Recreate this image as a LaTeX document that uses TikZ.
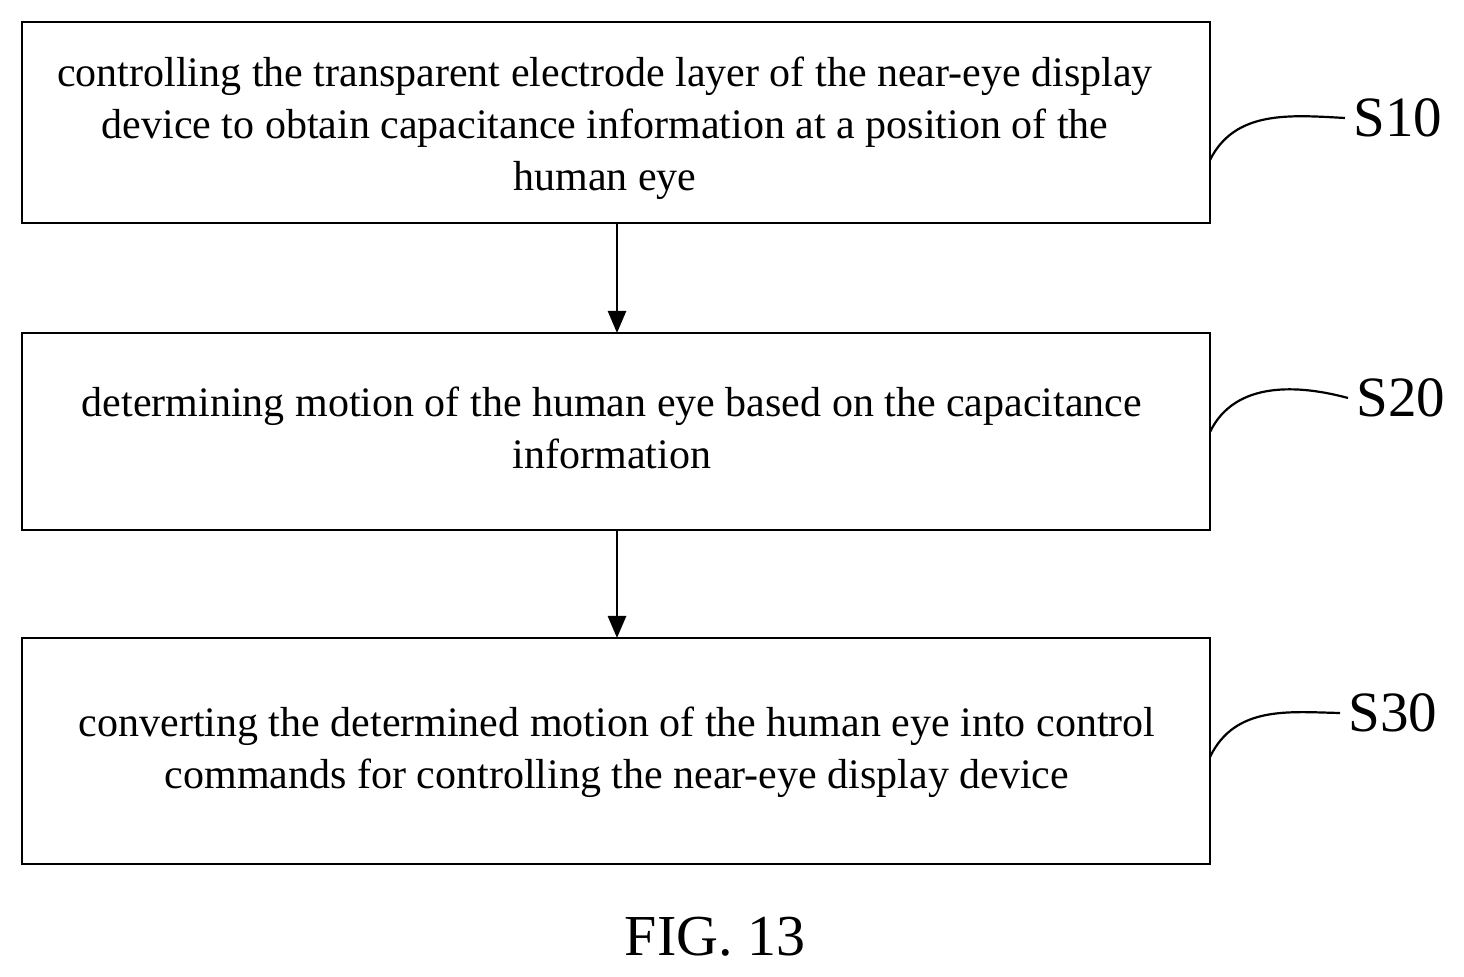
\documentclass[tikz,border=0pt]{standalone}
\usepackage{fontspec}
\setmainfont{Liberation Serif}
\usetikzlibrary{arrows.meta}
\begin{document}
\begin{tikzpicture}[x=0.5pt,y=-0.5pt,
  box/.style={draw,line width=1.3pt},
  txt/.style={align=center,font=\fontsize{21}{26}\selectfont},
  lab/.style={font=\fontsize{28.5}{32}\selectfont},
  arr/.style={-{Triangle[length=11pt,width=9pt]},line width=1.3pt},
  lead/.style={line width=1.1pt}]
\useasboundingbox (0,0) rectangle (1464,977);
\draw[box] (22,22) rectangle (1210,223);
\draw[box] (22,333) rectangle (1210,530);
\draw[box] (22,638) rectangle (1210,864);
\node[txt] (t1) at (605,128) {controlling the transparent electrode layer of the near-eye display\\device to obtain capacitance information at a position of the\\human eye};
\node[txt] (t2) at (612,428) {determining motion of the human eye based on the capacitance\\information};
\node[txt] (t3) at (617,752) {converting the determined motion of the human eye into control\\commands for controlling the near-eye display device};
\coordinate (a1) at (617,223); \coordinate (a2) at (617,333);
\coordinate (a3) at (617,530); \coordinate (a4) at (617,638);
\draw[arr] (a1) -- (a2);
\draw[arr] (a3) -- (a4);
\node[lab,anchor=west,inner xsep=4pt] (s1) at (1345,118) {S10};
\node[lab,anchor=west,inner xsep=4pt] (s2) at (1348,398) {S20};
\node[lab,anchor=west,inner xsep=4pt] (s3) at (1340,713) {S30};
\coordinate (c1) at (1210,160); \coordinate (c2) at (1210,432); \coordinate (c3) at (1210,757);
\draw[lead] (c1) .. controls (1235,110) and (1290,115) .. (s1.west);
\draw[lead] (c2) .. controls (1235,380) and (1300,385) .. (s2.west);
\draw[lead] (c3) .. controls (1235,705) and (1290,712) .. (s3.west);
\node[font=\fontsize{29}{32}\selectfont] (fig) at (715,937) {FIG. 13};
\end{tikzpicture}
\end{document}
